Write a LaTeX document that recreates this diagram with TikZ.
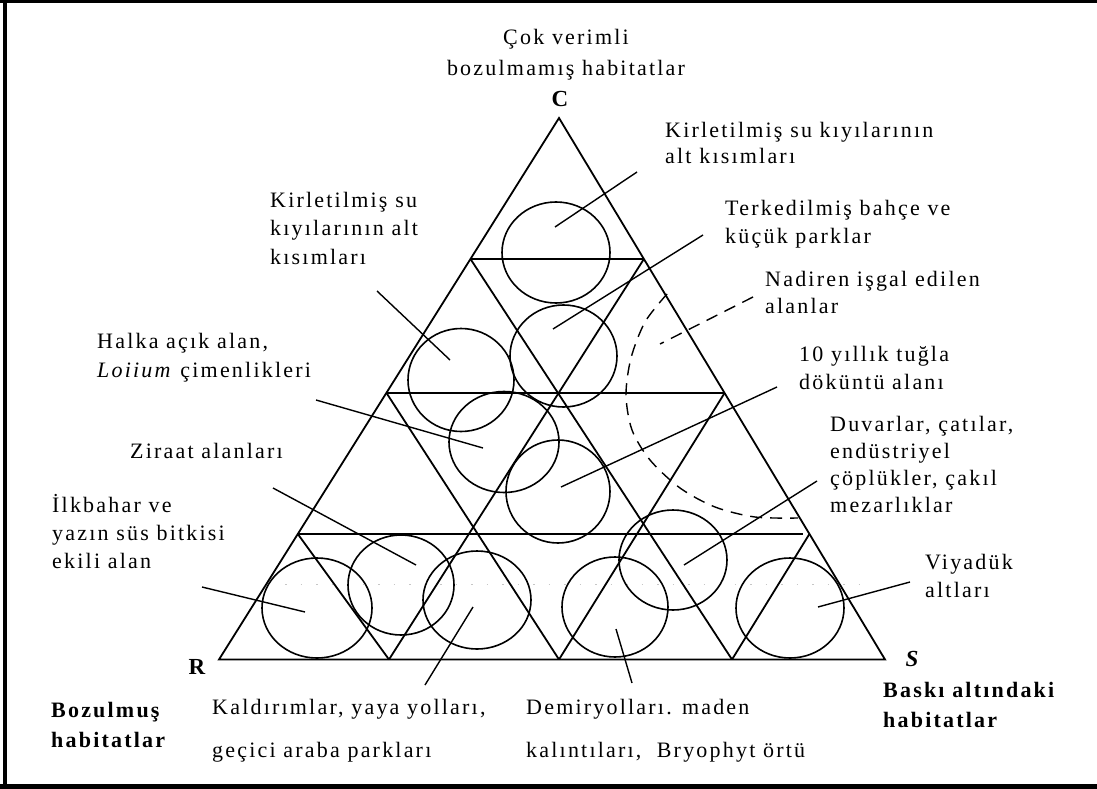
\documentclass[tikz,border=0pt]{standalone}
\usepackage{fontspec}
\setmainfont{Liberation Serif}[LetterSpace=10]
\begin{document}
\begin{tikzpicture}[x=1pt,y=-1pt,
  frameline/.style={line width=#1, black},
  edge/.style={line width=1.8pt, line join=miter},
  circ/.style={line width=1.6pt},
  lead/.style={line width=1.4pt},
  dashlead/.style={line width=1.4pt, dash pattern=on 12pt off 8pt},
  lbl/.style={anchor=base west, inner sep=0pt, align=left, font=\fontsize{22}{28}\selectfont},
  lblb/.style={lbl, font=\fontsize{22}{30}\selectfont\bfseries},
  lblw/.style={lbl, font=\fontsize{22}{43}\selectfont},
  corner/.style={anchor=base, inner sep=0pt, font=\fontsize{23}{28}\selectfont\bfseries}]
\useasboundingbox (0,0) rectangle (1097,789);
% frame
\draw[frameline=3pt] (0,1.5) -- (1097,1.5);
\draw[frameline=4pt] (5.3,0) -- (5.3,789);
\draw[frameline=5pt] (0,786) -- (1097,786);
% triangle corners and grid points
\coordinate (C) at (559,118);
\coordinate (R) at (219,659.5);
\coordinate (S) at (885,659.5);
\coordinate (L1) at (470.5,259);
\coordinate (L2) at (386.5,393);
\coordinate (L3) at (297.8,534);
\coordinate (R1) at (643.9,259);
\coordinate (R2) at (724.6,393);
\coordinate (R3) at (809.4,534);
\coordinate (B1) at (389,659.5);
\coordinate (B2) at (559,659.5);
\coordinate (B3) at (732,659.5);
\draw[edge] (C) -- (R) -- (S) -- cycle;
\draw[edge] (L1) -- (R1);
\draw[edge] (L2) -- (R2);
\draw[edge] (L3) -- (803,534);
\draw[edge] (B1) -- (L3);
\draw[edge] (B1) -- (R1);
\draw[edge] (B2) -- (L2);
\draw[edge] (B2) -- (R2);
\draw[edge] (B3) -- (L1);
\draw[edge] (B3) -- (R3);
% faint dotted line
\draw[gray!45, line width=1pt, dash pattern=on 1.5pt off 14pt] (285,584) -- (872,584);
% circles
\draw[circ] (556,252.5) ellipse [x radius=54, y radius=50.5];
\draw[circ] (461,380) ellipse [x radius=53, y radius=51.5];
\draw[circ] (563.5,356) ellipse [x radius=53.5, y radius=51];
\draw[circ] (504,442) ellipse [x radius=55, y radius=50.5];
\draw[circ] (558,491.5) ellipse [x radius=52, y radius=51.5];
\draw[circ] (317,608) ellipse [x radius=55, y radius=50];
\draw[circ] (401,585) ellipse [x radius=53, y radius=50];
\draw[circ] (477,600) ellipse [x radius=54, y radius=49];
\draw[circ] (615,607) ellipse [x radius=53, y radius=50];
\draw[circ] (673,560) ellipse [x radius=54, y radius=50];
\draw[circ] (790,608) ellipse [x radius=54, y radius=50];
% dashed region boundary
\draw[dashlead] plot[smooth] coordinates {(667,294) (645,322) (631,358) (626,395) (632,430) (650,460) (680,488) (715,507) (755,517) (798,518)};
% leader end points
\coordinate (a1) at (637,172);  \coordinate (b1) at (555,227);
\coordinate (a2) at (703,235);  \coordinate (b2) at (553,329);
\coordinate (a3) at (753,297);  \coordinate (b3) at (660,344);
\coordinate (a4) at (777,387);  \coordinate (b4) at (561,487);
\coordinate (a5) at (817,481);  \coordinate (b5) at (684,565);
\coordinate (a6) at (910,582);  \coordinate (b6) at (818,607);
\coordinate (a7) at (632,683);  \coordinate (b7) at (616,629);
\coordinate (a8) at (425,685);  \coordinate (b8) at (473,607);
\coordinate (a9) at (202,587);  \coordinate (b9) at (305,612);
\coordinate (a10) at (273,488); \coordinate (b10) at (416,565);
\coordinate (a11) at (316,400); \coordinate (b11) at (483,448);
\coordinate (a12) at (377,291); \coordinate (b12) at (450,360);
\draw[lead] (a1) -- (b1);
\draw[lead] (a2) -- (b2);
\draw[dashlead] (a3) -- (b3);
\draw[lead] (a4) -- (b4);
\draw[lead] (a5) -- (b5);
\draw[lead] (a6) -- (b6);
\draw[lead] (a7) -- (b7);
\draw[lead] (a8) -- (b8);
\draw[lead] (a9) -- (b9);
\draw[lead] (a10) -- (b10);
\draw[lead] (a11) -- (b11);
\draw[lead] (a12) -- (b12);
% labels (anchor = baseline of the last line)
\node[lbl, anchor=base, align=center, font=\fontsize{22}{31}\selectfont] (ttop) at (566,76) {Çok verimli\\bozulmamış habitatlar};
\node[corner] (tC) at (560,107) {C};
\node[corner] (tR) at (197,674) {R};
\node[corner] (tS) at (912,666) {\itshape S};
\node[lbl, font=\fontsize{22}{26}\selectfont] (t1) at (665,163) {Kirletilmiş su kıyılarının\\alt kısımları};
\node[lbl] (t2) at (725,243) {Terkedilmiş bahçe ve\\küçük parklar};
\node[lbl, font=\fontsize{22}{27}\selectfont] (t3) at (765,313) {Nadiren işgal edilen\\alanlar};
\node[lbl] (t4) at (799,389) {10 yıllık tuğla\\döküntü alanı};
\node[lbl, font=\fontsize{22}{27}\selectfont] (t5) at (830,512) {Duvarlar, çatılar,\\endüstriyel\\çöplükler, çakıl\\mezarlıklar};
\node[lbl] (t6) at (925,597) {Viyadük\\altları};
\node[lblb] (t7) at (883,727) {Baskı altındaki\\habitatlar};
\node[lblw] (t8) at (526,757) {Demiryolları. maden\\kalıntıları,\ \ Bryophyt örtü};
\node[lblw] (t9) at (212,757) {Kaldırımlar, yaya yolları,\\geçici araba parkları};
\node[lblb] (t10) at (51,747) {Bozulmuş\\habitatlar};
\node[lbl] (t11) at (52,568) {İlkbahar ve\\yazın süs bitkisi\\ekili alan};
\node[lbl] (t12) at (130,458) {Ziraat alanları};
\node[lbl, font=\fontsize{22}{29}\selectfont] (t13) at (97,377) {Halka açık alan,\\\textit{Loiium} çimenlikleri};
\node[lbl, font=\fontsize{22}{28.5}\selectfont] (t14) at (270,264) {Kirletilmiş su\\kıyılarının alt\\kısımları};
\end{tikzpicture}
\end{document}
